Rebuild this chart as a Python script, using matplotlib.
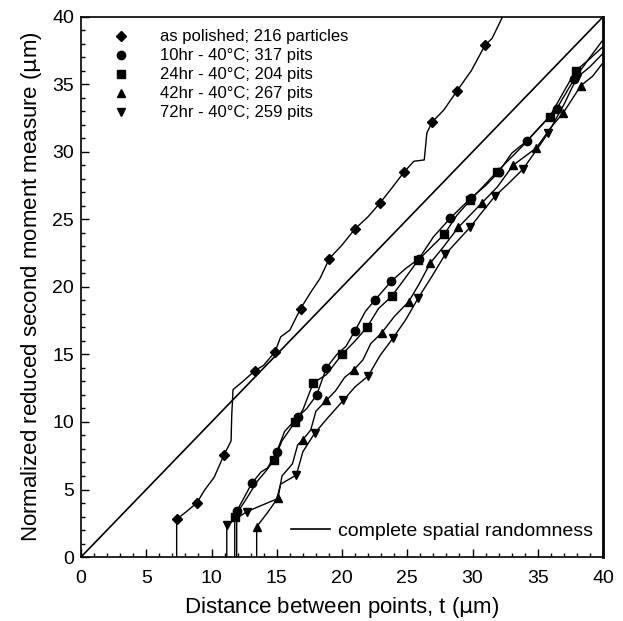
import numpy as np
import matplotlib
matplotlib.use("Agg")
import matplotlib.pyplot as plt
from matplotlib.lines import Line2D
from matplotlib.ticker import MultipleLocator

plt.rcParams['font.family'] = ['Liberation Sans', 'DejaVu Sans']

# as polished; 216 particles (diamonds)
pol_x = [7.33, 7.33, 8.0, 8.87, 9.5, 10.2, 10.96, 11.5, 11.55, 11.65, 12.4, 13.33, 14.0, 14.87,
         15.3, 16.0, 16.83, 17.6, 18.3, 19.03, 20.0, 21.0, 22.0, 22.9, 23.8, 24.75, 25.5, 26.3,
         26.5, 26.9, 27.8, 28.8, 29.9, 30.96, 31.5, 32.3]
pol_y = [0, 2.8, 3.3, 4.0, 5.0, 5.9, 7.56, 8.6, 10.5, 12.4, 13.0, 13.8, 14.2, 15.2,
         16.3, 16.8, 18.4, 19.6, 20.6, 22.1, 23.1, 24.3, 25.2, 26.2, 27.3, 28.5, 29.3, 29.4,
         31.4, 32.2, 33.1, 34.5, 36.0, 37.9, 38.4, 40.0]
pol_mx = [7.33, 8.87, 10.96, 13.33, 14.87, 16.83, 19.03, 21.0, 22.9, 24.75, 26.9, 28.8, 30.96]
pol_my = [2.8, 4.0, 7.56, 13.8, 15.2, 18.4, 22.1, 24.3, 26.2, 28.5, 32.2, 34.5, 37.9]

# 10hr - 40C; 317 pits (circles)
h10_x = [11.93, 11.93, 12.5, 13.08, 13.8, 14.3, 15.0, 15.6, 16.65, 17.3, 18.06, 18.8, 19.6, 20.3,
         21.0, 21.8, 22.5, 23.75, 24.8, 25.9, 27.0, 28.3, 29.9, 31.0, 32.0, 33.0, 34.15, 35.3,
         36.45, 37.8, 39.0, 40.0]
h10_y = [0, 3.4, 4.4, 5.46, 6.3, 6.6, 7.8, 9.3, 10.4, 11.0, 12.0, 14.0, 15.0, 15.6,
         16.76, 18.2, 19.0, 20.4, 21.3, 22.1, 23.7, 25.1, 26.6, 27.5, 28.5, 29.9, 30.8, 32.0,
         33.2, 35.4, 37.0, 38.3]
h10_mx = [11.93, 13.08, 15.0, 16.65, 18.06, 18.8, 21.0, 22.5, 23.75, 25.9, 28.3, 29.9, 32.0,
          34.15, 36.45, 37.8]
h10_my = [3.4, 5.46, 7.8, 10.4, 12.0, 14.0, 16.76, 19.0, 20.4, 22.1, 25.1, 26.6, 28.5,
          30.8, 33.2, 35.4]

# 24hr - 40C; 204 pits (squares)
h24_x = [11.78, 11.78, 12.6, 13.5, 14.2, 14.8, 15.4, 16.4, 17.0, 17.8, 18.8, 20.0, 21.0, 21.9,
         22.8, 23.8, 24.8, 25.85, 27.84, 28.8, 29.8, 31.85, 33.8, 35.9, 37.9, 39.0, 40.0]
h24_y = [0, 3.0, 4.2, 5.6, 6.4, 7.2, 8.6, 10.0, 10.9, 12.9, 13.5, 15.0, 16.0, 17.0,
         18.4, 19.3, 20.6, 22.0, 23.9, 25.3, 26.4, 28.5, 30.4, 32.6, 36.0, 36.9, 37.8]
h24_mx = [11.78, 14.8, 16.4, 17.8, 20.0, 21.9, 23.8, 25.85, 27.84, 29.8, 31.85, 35.9, 37.9]
h24_my = [3.0, 7.2, 10.0, 12.9, 15.0, 17.0, 19.3, 22.0, 23.9, 26.4, 28.5, 32.6, 36.0]

# 42hr - 40C; 267 pits (up triangles)
h42_x = [13.46, 13.46, 14.3, 15.1, 15.4, 16.2, 16.6, 17.0, 17.6, 18.0, 18.8, 19.5, 20.2, 20.9,
         21.6, 22.2, 23.04, 24.0, 25.1, 25.9, 26.75, 27.8, 28.9, 30.7, 31.9, 33.1, 34.9, 36.0,
         36.96, 38.3, 39.2, 40.0]
h42_y = [0, 2.24, 3.3, 4.4, 6.0, 6.9, 8.3, 8.7, 9.4, 10.8, 11.6, 12.3, 13.3, 13.85,
         14.6, 15.8, 16.6, 17.8, 18.9, 20.2, 21.75, 23.0, 24.4, 26.2, 27.4, 29.0, 30.3, 31.8,
         32.9, 34.9, 35.6, 36.6]
h42_mx = [13.46, 15.1, 17.0, 18.8, 20.9, 23.04, 25.1, 26.75, 28.9, 30.7, 33.1, 34.9, 36.96, 38.3]
h42_my = [2.24, 4.4, 8.7, 11.6, 13.85, 16.6, 18.9, 21.75, 24.4, 26.2, 29.0, 30.3, 32.9, 34.9]

# 72hr - 40C; 259 pits (down triangles)
h72_x = [11.17, 11.17, 12.7, 15.0, 15.3, 16.5, 17.0, 17.9, 18.9, 20.1, 21.0, 22.0, 22.9, 23.9,
         24.9, 25.85, 26.9, 27.9, 29.8, 30.7, 31.7, 32.8, 33.85, 34.8, 35.8, 37.0, 38.0, 39.0, 40.0]
h72_y = [0, 2.37, 3.36, 4.3, 5.4, 6.07, 7.8, 9.16, 10.3, 11.6, 12.6, 13.4, 14.9, 16.2,
         17.6, 19.2, 20.8, 22.4, 24.4, 25.5, 26.7, 27.7, 28.7, 30.0, 31.4, 33.5, 35.5, 36.3, 37.3]
h72_mx = [11.17, 12.7, 16.5, 17.9, 20.1, 22.0, 23.9, 25.85, 27.9, 29.8, 31.7, 33.85, 35.8, 38.0]
h72_my = [2.37, 3.36, 6.07, 9.16, 11.6, 13.4, 16.2, 19.2, 22.4, 24.4, 26.7, 28.7, 31.4, 35.5]

labels = ["as polished; 216 particles",
          "10hr - 40°C; 317 pits",
          "24hr - 40°C; 204 pits",
          "42hr - 40°C; 267 pits",
          "72hr - 40°C; 259 pits"]
markers = ['D', 'o', 's', '^', 'v']
sizes = [5, 6, 5.5, 6, 6]

series = [(pol_x, pol_y, pol_mx, pol_my), (h10_x, h10_y, h10_mx, h10_my),
          (h24_x, h24_y, h24_mx, h24_my), (h42_x, h42_y, h42_mx, h42_my),
          (h72_x, h72_y, h72_mx, h72_my)]

fig = plt.figure(figsize=(6.23, 6.21), dpi=100)
ax = fig.add_axes([0.130, 0.103, 0.838, 0.870])

csr = np.array([0, 40])
ax.plot(csr, csr, color='black', lw=1.2)

handles = []
for (px, py, mx, my), m, s, lab in zip(series, markers, sizes, labels):
    ax.plot(px, py, color='black', lw=1.0)
    ax.plot(mx, my, ls='none', marker=m, ms=s, color='black')
    handles.append(Line2D([], [], ls='none', marker=m, ms=s, color='black', label=lab))

leg = ax.legend(handles=handles, loc='upper left', frameon=False, fontsize=12,
                bbox_to_anchor=(0.026, 0.995), handletextpad=1.3, labelspacing=0.24,
                borderaxespad=0.2)
ax.add_artist(leg)
csr_h = Line2D([], [], color='black', lw=1.2, label='complete spatial randomness')
ax.legend(handles=[csr_h], loc='lower right', frameon=False, fontsize=14,
          bbox_to_anchor=(1.015, 0.0), handlelength=2.0, handletextpad=0.45)

ax.set_xlim(0, 40)
ax.set_ylim(0, 40)
ax.xaxis.set_major_locator(MultipleLocator(5))
ax.yaxis.set_major_locator(MultipleLocator(5))
ax.xaxis.set_minor_locator(MultipleLocator(1))
ax.yaxis.set_minor_locator(MultipleLocator(1))
ax.tick_params(which='both', direction='in', top=False, right=False, labelsize=14, width=1)
ax.tick_params(axis='x', which='major', length=6, pad=9)
ax.tick_params(axis='y', which='major', length=6, pad=5)
ax.tick_params(which='minor', length=3)
for sp in ax.spines.values():
    sp.set_linewidth(1.2)
ax.spines['right'].set_linewidth(2)

ax.set_xlabel("Distance between points, t ($\\mathrm{\\mu}$m)", fontsize=16, labelpad=6)
ax.set_ylabel("Normalized reduced second moment measure ($\\mathrm{\\mu}$m)", fontsize=16, labelpad=6)

fig.savefig("out.png", dpi=100)
